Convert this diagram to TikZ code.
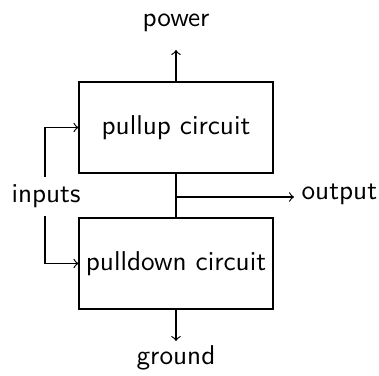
\documentclass[tikz,border=0pt]{standalone}
\begin{document}
\begin{tikzpicture}[x=0.382pt,y=-0.382pt,font=\sffamily\fontsize{10.4}{12}\selectfont,
  line width=0.45pt,
  blk/.style={draw,minimum width=74.1pt,minimum height=34.8pt,inner sep=0pt},
  lbl/.style={inner sep=0pt},
  wire/.style={->}]
\useasboundingbox (0,0) rectangle (379,375);
\node[blk] (up) at (176,127.5) {pullup circuit};
\node[blk] (down) at (176,263.5) {pulldown circuit};
\node[lbl] (power) at (176,23) {power};
\node[lbl] (ground) at (176,358) {ground};
\node[lbl] (inputs) at (46,196) {inputs};
\node[lbl,anchor=west] (output) at (301,194) {output};
\coordinate (pt) at (176,50);
\coordinate (gb) at (176,341);
\coordinate (junc) at (176,197);
\coordinate (oe) at (294,197);
\draw[wire] (up.north) -- (pt);
\draw[wire] (down.south) -- (gb);
\draw (up.south) -- (down.north);
\draw[wire] (junc) -- (oe);
\draw[wire] (inputs.north -| 45,0) ++(0,-7) |- (up.west);
\draw[wire] (inputs.south -| 45,0) ++(0,8) |- (down.west);
\end{tikzpicture}
\end{document}
